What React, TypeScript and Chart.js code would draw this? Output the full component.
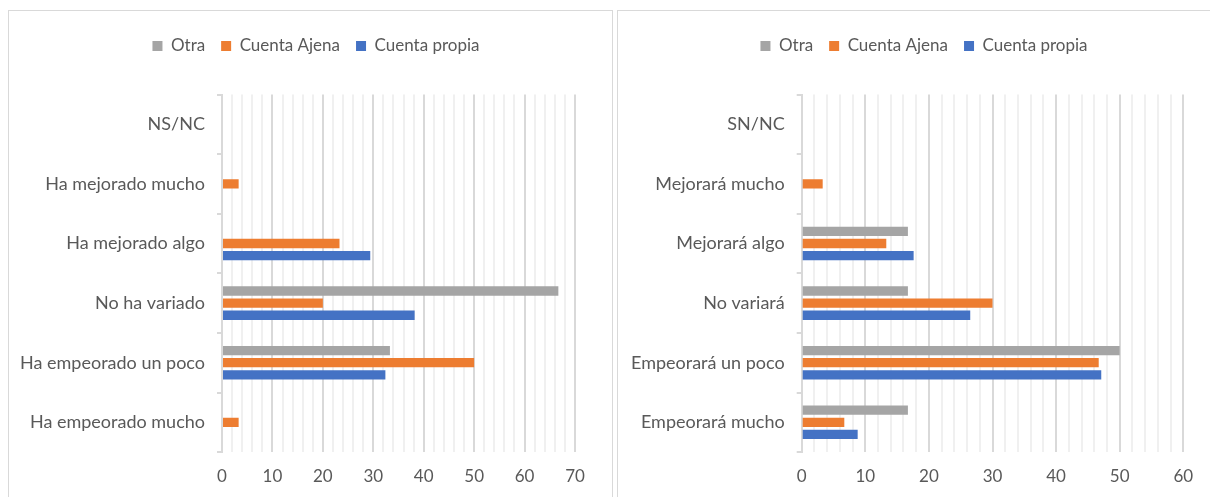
import React, { useEffect, useRef } from 'react';
import { Chart, registerables } from 'chart.js';

Chart.register(...registerables);

const seriesNames = ['Otra', 'Cuenta Ajena', 'Cuenta propia'];
const seriesColors = ['#A5A5A5', '#ED7D31', '#4472C4'];

const leftCategories = ['NS/NC', 'Ha mejorado mucho', 'Ha mejorado algo', 'No ha variado', 'Ha empeorado un poco', 'Ha empeorado mucho'];
const leftOtra = [null, null, null, 66.7, 33.3, null];
const leftAjena = [null, 3.3, 23.3, 20, 50, 3.3];
const leftPropia = [null, null, 29.4, 38.2, 32.4, null];
const leftMax = 70;

const rightCategories = ['SN/NC', 'Mejorará mucho', 'Mejorará algo', 'No variará', 'Empeorará un poco', 'Empeorará mucho'];
const rightOtra = [null, null, 16.7, 16.7, 50, 16.7];
const rightAjena = [null, 3.3, 13.3, 30, 46.7, 6.7];
const rightPropia = [null, null, 17.6, 26.5, 47.1, 8.8];
const rightMax = 60;

const FAMILY = 'Lato, "Open Sans", sans-serif';
const LEGEND_FONT = { family: FAMILY, size: 17 };
const LABEL_FONT = { family: FAMILY, size: 18 };
const TICK_FONT = { family: FAMILY, size: 17 };
const TEXT = '#595959';

type PanelProps = {
  labels: string[];
  series: (number | null)[][];
  max: number;
  left: number;
  width: number;
  padR: number;
  axisWidth: number;
  legendCenter: number;
};

function Panel({ labels, series, max, left, width, padR, axisWidth, legendCenter }: PanelProps) {
  const ref = useRef<HTMLCanvasElement>(null);
  const canvasW = width - 2;
  const canvasH = 490;
  const padTop = 10.5;
  const chartTop = 83.5;
  useEffect(() => {
    const legendTweak = {
      id: 'legendTweak',
      beforeLayout(chart: any) {
        const lg = chart.legend;
        if (lg && !lg.__patched) {
          const orig = lg.fit;
          lg.fit = function () {
            orig.call(this);
            this.height = chartTop - padTop;
          };
          lg.__patched = true;
        }
      },
      afterLayout(chart: any) {
        const lg = chart.legend;
        if (lg) {
          const w = lg.right - lg.left;
          lg.left = legendCenter - w / 2;
          lg.right = legendCenter + w / 2;
        }
      },
    };
    const chart = new Chart(ref.current!, {
      type: 'bar',
      data: {
        labels,
        datasets: series.map((d, i) => ({
          label: seriesNames[i],
          data: d,
          backgroundColor: seriesColors[i],
          borderWidth: 0,
          categoryPercentage: 0.61,
          barPercentage: 0.77,
        })),
      },
      options: {
        indexAxis: 'y',
        animation: false,
        responsive: false,
        devicePixelRatio: 1,
        layout: { padding: { top: padTop, left: 0, right: padR, bottom: 0.5 } },
        plugins: {
          legend: {
            position: 'top',
            labels: { boxWidth: 10, boxHeight: 10, padding: 16, color: TEXT, font: LEGEND_FONT },
          },
          tooltip: { enabled: false },
        },
        scales: {
          x: {
            min: 0,
            max,
            ticks: {
              stepSize: 2,
              autoSkip: false,
              maxRotation: 0,
              color: TEXT,
              font: TICK_FONT,
              padding: 14,
              callback: (v: any) => (Number(v) % 10 === 0 ? String(v) : ''),
            },
            grid: {
              drawTicks: false,
              color: (ctx: any) => (ctx.tick && ctx.tick.value % 10 === 0 ? '#d9d9d9' : '#f0f0f0'),
              lineWidth: 2,
            },
            border: { display: false },
          },
          y: {
            ticks: { color: TEXT, font: LABEL_FONT, padding: 12, autoSkip: false },
            grid: { offset: true, drawOnChartArea: false, drawTicks: true, tickLength: 5, color: '#d9d9d9', lineWidth: 2 },
            border: { display: true, color: '#d9d9d9', width: 2 },
            afterFit: (s: any) => {
              s.width = axisWidth;
            },
          },
        },
      },
      plugins: [legendTweak],
    } as any);
    return () => chart.destroy();
  }, []);
  return (
    <div
      style={{
        position: 'absolute',
        left,
        top: 10,
        width: width - 2,
        height: 500,
        overflow: 'hidden',
        border: '1px solid #d9d9d9',
        background: '#fff',
      }}
    >
      <canvas ref={ref} width={canvasW} height={canvasH} style={{ display: 'block', width: canvasW, height: canvasH }} />
    </div>
  );
}

export default function App() {
  return (
    <div style={{ position: 'fixed', left: 0, top: 0, width: 1210, height: 497, overflow: 'hidden', background: '#fff' }}>
      <Panel
        labels={leftCategories}
        series={[leftOtra, leftAjena, leftPropia]}
        max={leftMax}
        left={8}
        width={605}
        padR={37}
        axisWidth={213}
        legendCenter={307}
      />
      <Panel
        labels={rightCategories}
        series={[rightOtra, rightAjena, rightPropia]}
        max={rightMax}
        left={617}
        width={614}
        padR={46.7}
        axisWidth={183.7}
        legendCenter={306}
      />
    </div>
  );
}
